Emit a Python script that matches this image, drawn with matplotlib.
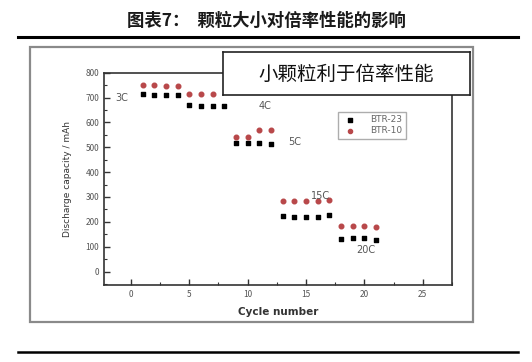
import matplotlib
matplotlib.use("Agg")
import matplotlib.pyplot as plt
from matplotlib.patches import Rectangle
from matplotlib.lines import Line2D
from matplotlib.ticker import MultipleLocator

plt.rcParams['font.family'] = ['Noto Sans CJK SC', 'DejaVu Sans']

W, H = 532, 362

cycles = [1, 2, 3, 4, 5, 6, 7, 8, 9, 10, 11, 12, 13, 14, 15, 16, 17, 18, 19, 20, 21]
btr23 = [713, 711, 709, 709, 670, 668, 668, 666, 519, 519, 519, 515,
         224, 221, 221, 221, 226, 133, 135, 134, 129]
btr10_cycles = [1, 2, 3, 4, 5, 6, 7, 9, 10, 11, 12, 13, 14, 15, 16, 17, 18, 19, 20, 21]
btr10 = [751, 751, 748, 748, 713, 713, 713, 543, 541, 569, 571,
         285, 285, 284, 282, 289, 182, 184, 183, 181]
rate_labels = ["3C", "4C", "5C", "15C", "20C"]
rate_label_pos = [(-1.35, 700), (10.9, 667), (13.5, 520), (15.4, 306), (19.3, 87)]
series_names = ["BTR-23", "BTR-10"]
title = "图表7：  颗粒大小对倍率性能的影响"
inset_title = "小颗粒利于倍率性能"

def fx(x):
    return x / W

def fy(y):
    return 1 - y / H

fig = plt.figure(figsize=(W / 100, H / 100), dpi=100)
fig.patch.set_facecolor('white')

# title and rules
fig.text(fx(266), fy(21), title, ha='center', va='center', fontsize=12.5,
         fontweight='bold', color='#1a1a1a')
fig.add_artist(Line2D([fx(18), fx(518)], [fy(36.5), fy(36.5)], color='black', lw=2.2))
fig.add_artist(Line2D([fx(18), fx(518)], [fy(352), fy(352)], color='black', lw=1.8))

# outer gray frame of the embedded image
fig.add_artist(Rectangle((fx(30), fy(322)), fx(473) - fx(30), fy(47) - fy(322),
                         transform=fig.transFigure, fill=False, edgecolor='#8a8a8a', lw=1.6))

left, right, top, bottom = 104, 452, 72.7, 285
ax = fig.add_axes([fx(left), fy(bottom), fx(right) - fx(left), fy(top) - fy(bottom)])
ax.scatter(cycles, btr23, marker='s', s=9, color='black', label=series_names[0], zorder=3)
ax.scatter(btr10_cycles, btr10, marker='o', s=11, color='#b8484a', label=series_names[1], zorder=3)

ax.set_xlim(-2.3, 27.5)
ax.set_ylim(-54, 800)
ax.xaxis.set_major_locator(MultipleLocator(5))
ax.xaxis.set_minor_locator(MultipleLocator(2.5))
ax.yaxis.set_major_locator(MultipleLocator(100))
ax.yaxis.set_minor_locator(MultipleLocator(50))
ax.tick_params(axis='both', which='both', direction='in', top=False, right=False,
               labelsize=6, labelcolor='#555555', color='#333333')
ax.tick_params(which='major', length=4, width=1)
ax.tick_params(which='minor', length=2, width=0.8)
for sp in ax.spines.values():
    sp.set_linewidth(1.2)
    sp.set_color('#333333')

for lab, (x, y) in zip(rate_labels, rate_label_pos):
    ax.text(x, y, lab, fontsize=7, color='#555555', ha='left', va='center',
            family='DejaVu Sans')

ax.set_xlabel("Cycle number", fontsize=7.5, fontweight='bold', color='#333333',
              family='DejaVu Sans', labelpad=6)
ax.set_ylabel("Discharge capacity / mAh", fontsize=6.5, color='#333333',
              family='DejaVu Sans', labelpad=10)

leg = ax.legend(loc='upper left', bbox_to_anchor=(fx(333), fy(107)),
                bbox_transform=fig.transFigure, frameon=True,
                fancybox=False, edgecolor='#999999', borderpad=0.4,
                handletextpad=1.2, labelspacing=0.2, markerscale=0.9,
                prop={'family': 'DejaVu Sans', 'size': 6.5})
for t in leg.get_texts():
    t.set_color('#666666')

# inset title box
box_ax = fig.add_axes([fx(223), fy(95), fx(470) - fx(223), fy(52) - fy(95)])
box_ax.set_xticks([])
box_ax.set_yticks([])
box_ax.set_facecolor('white')
for sp in box_ax.spines.values():
    sp.set_linewidth(1.2)
    sp.set_color('#222222')
box_ax.text(0.5, 0.48, inset_title, ha='center', va='center', fontsize=14,
            color='#111111', transform=box_ax.transAxes)

fig.savefig("out.png", dpi=100)
